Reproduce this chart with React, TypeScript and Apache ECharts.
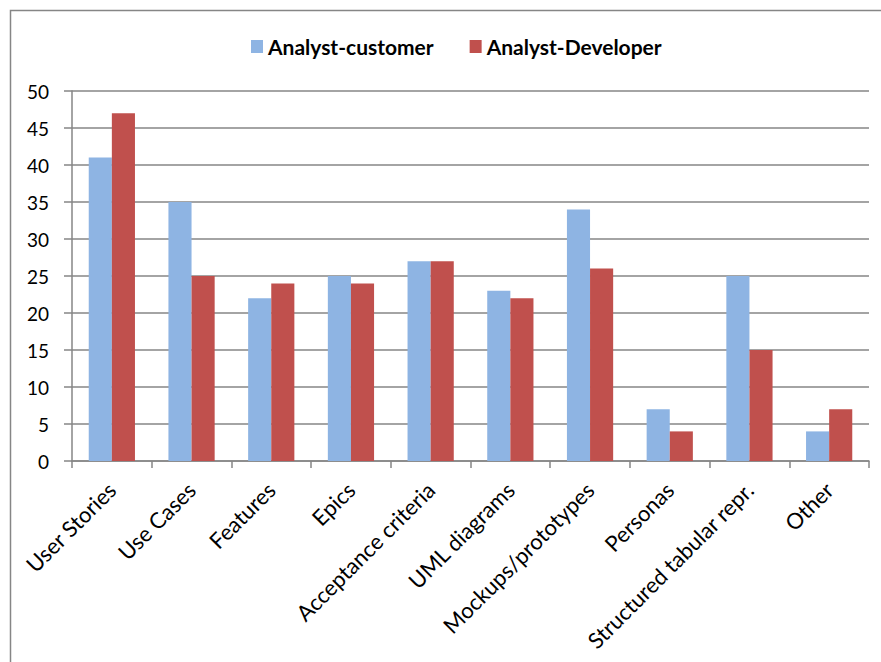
import React, { useEffect, useRef } from "react";
import * as echarts from "echarts";

const categories = [
  "User Stories",
  "Use Cases",
  "Features",
  "Epics",
  "Acceptance criteria",
  "UML diagrams",
  "Mockups/prototypes",
  "Personas",
  "Structured tabular repr.",
  "Other",
];
const analystCustomer = [41, 35, 22, 25, 27, 23, 34, 7, 25, 4];
const analystDeveloper = [47, 25, 24, 24, 27, 22, 26, 4, 15, 7];
const seriesNames = ["Analyst-customer", "Analyst-Developer"];

export default function App() {
  const ref = useRef<HTMLDivElement>(null);
  useEffect(() => {
    document.body.style.margin = "0";
    const chart = echarts.init(ref.current!, null, { renderer: "svg" });
    const gray = "#868686";
    chart.setOption({
      animation: false,
      backgroundColor: "#ffffff",
      graphic: [
        {
          type: "rect",
          shape: { x: 10.5, y: 10.5, width: 900, height: 700 },
          style: { fill: "none", stroke: gray, lineWidth: 1.5 },
          silent: true,
        },
      ],
      legend: {
        top: 31,
        left: 246,
        itemWidth: 12,
        itemHeight: 13,
        itemGap: 36,
        icon: "rect",
        textStyle: { fontFamily: "Lato", fontWeight: "bold", fontSize: 21, color: "#000" },
        data: seriesNames,
      },
      grid: { left: 72, right: 12, top: 91, bottom: 201 },
      xAxis: {
        type: "category",
        data: categories,
        axisLine: { lineStyle: { color: gray, width: 1.5 } },
        axisTick: { show: true, length: 7, lineStyle: { color: gray, width: 1.5 } },
        axisLabel: {
          rotate: 45,
          interval: 0,
          fontFamily: "Lato",
          fontSize: 22,
          color: "#000",
          margin: 25,
        },
      },
      yAxis: {
        type: "value",
        min: 0,
        max: 50,
        interval: 5,
        axisLine: { show: true, lineStyle: { color: gray, width: 1.5 } },
        axisTick: { show: true, length: 8, lineStyle: { color: gray, width: 1.5 } },
        splitLine: { lineStyle: { color: gray, width: 1.5 } },
        axisLabel: { fontFamily: "Lato", fontSize: 19, color: "#000", margin: 23 },
      },
      series: [
        {
          name: seriesNames[0],
          type: "bar",
          data: analystCustomer,
          itemStyle: { color: "#8EB4E3" },
          barGap: "0%",
          barCategoryGap: "42%",
        },
        {
          name: seriesNames[1],
          type: "bar",
          data: analystDeveloper,
          itemStyle: { color: "#C0504D" },
          barGap: "0%",
          barCategoryGap: "42%",
        },
      ],
    });
    return () => chart.dispose();
  }, []);
  return <div ref={ref} style={{ width: 881, height: 662 }} />;
}
